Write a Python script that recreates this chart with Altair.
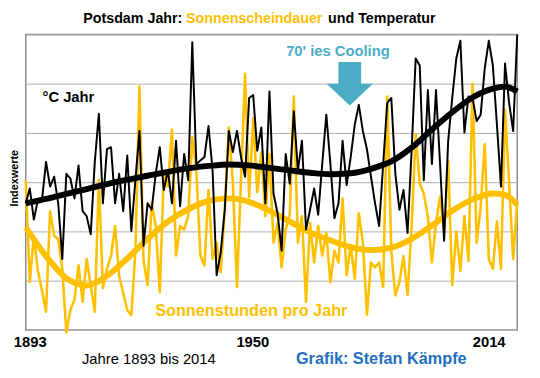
import altair as alt
import pandas as pd

# ---------------- data ----------------
years = list(range(1893, 2015))

temperature = [
    2.57, 2.87, 2.24, 2.64, 2.64, 3.41, 2.91, 3.11, 2.57, 1.44,
    3.17, 3.07, 2.67, 3.34, 2.41, 2.31, 1.94, 3.41, 4.39, 2.57,
    3.67, 3.71, 2.57, 3.17, 2.41, 3.54, 2.01, 3.04, 4.04, 1.71,
    2.57, 2.44, 3.17, 3.71, 2.84, 3.24, 2.57, 3.84, 2.51, 3.57,
    3.04, 5.84, 3.37, 3.44, 3.51, 4.14, 3.24, 1.11, 1.57, 2.44,
    4.04, 3.61, 4.04, 3.51, 3.11, 4.71, 4.77, 3.64, 4.11, 2.57,
    4.84, 2.77, 2.37, 1.61, 3.57, 2.97, 4.44, 3.24, 3.84, 2.04,
    2.44, 2.87, 2.34, 3.37, 4.37, 3.37, 2.27, 2.57, 3.84, 2.94,
    3.51, 4.17, 4.57, 4.04, 3.67, 3.11, 2.57, 2.11, 3.37, 4.61,
    4.71, 3.17, 2.44, 2.84, 1.97, 3.64, 5.51, 5.37, 3.04, 4.87,
    3.37, 4.87, 3.37, 1.81, 3.84, 4.71, 5.51, 5.87, 4.01, 4.74,
    4.71, 4.24, 4.37, 5.31, 5.87, 5.37, 4.17, 2.91, 5.41, 4.61,
    4.04, 6.00,
]

sunshine = [
    3.04, 0.97, 1.91, 1.20, 0.80, 0.37, 2.41, 1.91, 1.84, 1.24,
    -0.05, 0.41, 0.61, 1.31, 0.57, 1.44, 0.90, 0.37, 3.05, 0.85,
    1.24, 1.51, 2.11, 1.10, 0.75, 0.40, 0.30, 1.60, 4.94, 1.40,
    0.91, 2.57, 2.11, 0.77, 3.17, 2.91, 4.07, 1.51, 2.11, 2.04,
    2.31, 3.91, 3.24, 1.51, 1.31, 2.84, 1.44, 1.77, 1.17, 2.44,
    4.11, 2.97, 0.87, 3.04, 5.20, 2.70, 4.30, 2.80, 3.60, 2.31,
    3.57, 1.77, 2.17, 1.27, 2.04, 2.34, 4.74, 1.77, 2.31, 0.57,
    2.17, 1.37, 2.11, 1.51, 1.97, 0.97, 1.61, 1.37, 2.67, 1.11,
    1.71, 1.04, 2.37, 1.77, 0.31, 1.37, 1.27, 1.37, 0.87, 4.74,
    1.60, 0.70, 0.97, 1.50, 0.71, 2.10, 3.97, 2.97, 2.77, 2.30,
    1.37, 2.17, 2.71, 2.00, 3.44, 0.91, 2.00, 1.20, 2.31, 1.40,
    5.00, 1.77, 2.50, 3.77, 1.44, 1.24, 2.20, 1.24, 4.47, 3.00,
    1.44, 2.60,
]

trend_years = [1893, 1898, 1903, 1908, 1913, 1918, 1923, 1928, 1933, 1938,
               1943, 1948, 1953, 1958, 1963, 1968, 1973, 1978, 1983, 1988,
               1993, 1998, 2003, 2008, 2011, 2014]
temp_trend = [2.57, 2.66, 2.76, 2.86, 2.96, 3.05, 3.13, 3.21, 3.28, 3.33,
              3.36, 3.34, 3.29, 3.24, 3.19, 3.16, 3.18, 3.27, 3.42, 3.70,
              4.07, 4.42, 4.72, 4.90, 4.94, 4.84]
sun_trend = [2.08, 1.50, 1.05, 0.90, 1.10, 1.45, 1.85, 2.20, 2.45, 2.62,
             2.67, 2.60, 2.42, 2.20, 1.98, 1.82, 1.68, 1.62, 1.67, 1.85,
             2.12, 2.42, 2.65, 2.77, 2.74, 2.54]

x_label_years = [1893, 1950, 2014]
grid_values = [0, 1, 2, 3, 4, 5, 6]

title_left = "Potsdam Jahr:"
title_mid = "Sonnenscheindauer"
title_right = "und Temperatur"
cooling_text = "70' ies Cooling"
temp_text = "°C Jahr"
sun_text = "Sonnenstunden pro Jahr"
xtitle_text = "Jahre 1893 bis 2014"
credit_text = "Grafik: Stefan Kämpfe"
ytitle_text = "Indexwerte"

# ---------------- style ----------------
FONT = "Liberation Sans"
YELLOW = "#FFC000"
TEAL = "#4BACC6"
BLUE = "#1F6FBF"
W, H = 499, 300

series = pd.DataFrame({"year": years, "temp": temperature, "sun": sunshine})
trends = pd.DataFrame({"year": trend_years, "temp": temp_trend, "sun": sun_trend})

xscale = alt.Scale(domain=[1893, 2014], nice=False, zero=False)
yscale = alt.Scale(domain=[0, 6], nice=False, zero=False)

xaxis = alt.Axis(
    values=x_label_years, format="d", ticks=False, domain=False, grid=False,
    labelFont=FONT, labelFontSize=15, labelFontWeight="bold", labelColor="black",
    labelPadding=5, labelAngle=0, labelFlush=False, labelAlign="center", title=None,
    labelOffset={"condition": [{"test": "datum.value == 1893", "value": 4},
                               {"test": "datum.value == 2014", "value": -29}],
                 "value": -5},
)
yaxis = alt.Axis(values=grid_values, labels=False, ticks=False, domain=False,
                 grid=True, gridColor="#b0b0b0", gridWidth=1, title=None)


def line_layer(df, field, color, width, interp="linear"):
    return alt.Chart(df).mark_line(color=color, strokeWidth=width,
                                   interpolate=interp, strokeJoin="round").encode(
        x=alt.X("year:Q", scale=xscale, axis=xaxis),
        y=alt.Y(f"{field}:Q", scale=yscale, axis=yaxis),
    )


def text_layer(txt, x, y, color="black", size=12, weight="bold", align="center", angle=0):
    return alt.Chart(pd.DataFrame({"t": [txt]})).mark_text(
        font=FONT, fontSize=size, fontWeight=weight, color=color,
        align=align, baseline="middle", angle=angle,
    ).encode(text="t:N", x=alt.value(x), y=alt.value(y))


arrow_path = "M -0.49 -0.94 L 0.49 -0.94 L 0.49 0 L 1 0 L 0 0.94 L -1 0 L -0.49 0 Z"
arrow = alt.Chart(pd.DataFrame({"t": [cooling_text]})).mark_point(
    shape=arrow_path, size=2209, filled=True, color=TEAL, opacity=1, strokeWidth=0
).encode(x=alt.value(329), y=alt.value(50))

chart = alt.layer(
    line_layer(series, "sun", YELLOW, 2.6),
    line_layer(trends, "sun", YELLOW, 6, "monotone"),
    line_layer(series, "temp", "black", 2),
    line_layer(trends, "temp", "black", 6, "monotone"),
    text_layer(title_left, 159, -16, size=14.5, align="right"),
    text_layer(title_mid, 232, -16, color=YELLOW, size=14.5),
    text_layer(title_right, 307, -16, size=14.5, align="left"),
    text_layer(cooling_text, 317, 17, color=TEAL, size=15),
    arrow,
    text_layer(temp_text, 17, 64, size=15, align="left"),
    text_layer(sun_text, 229, 281, color=YELLOW, size=16.5),
    text_layer(xtitle_text, 125, 330, size=15, weight="normal"),
    text_layer(credit_text, 361, 330, color=BLUE, size=16.5),
    text_layer(ytitle_text, -11, 146, size=11, angle=270),
).properties(
    width=W, height=H,
    autosize=alt.AutoSizeParams(type="none"),
    padding={"left": 18, "top": 24, "right": 15, "bottom": 46},
    background="white",
).configure_view(stroke="#8c8c8c", strokeWidth=1.5)

chart.save("out.html", embed_options={"renderer": "svg", "actions": False})
